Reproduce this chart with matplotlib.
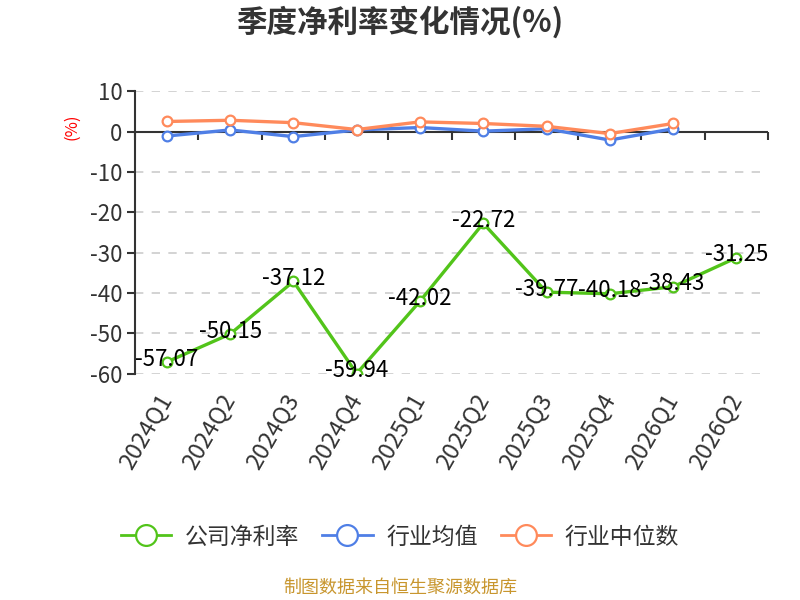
import matplotlib
matplotlib.use("Agg")
import matplotlib.pyplot as plt
from matplotlib.lines import Line2D

plt.rcParams['font.family'] = ['Noto Sans CJK SC', 'DejaVu Sans']

#### data
quarters = ["2024Q1", "2024Q2", "2024Q3", "2024Q4", "2025Q1",
            "2025Q2", "2025Q3", "2025Q4", "2026Q1", "2026Q2"]
company = [-57.07, -50.15, -37.12, -59.94, -42.02, -22.72, -39.77, -40.18, -38.43, -31.25]
ind_mean = [-1.1, 0.4, -1.25, 0.4, 1.0, 0.1, 0.7, -2.1, 0.7]
ind_median = [2.5, 2.8, 2.2, 0.5, 2.4, 2.0, 1.3, -0.5, 2.0]
y_ticks = [10, 0, -10, -20, -30, -40, -50, -60]

GREEN = "#52c41a"
BLUE = "#4f7fe6"
ORANGE = "#ff8a5b"

####
fig = plt.figure(figsize=(8, 6), dpi=100)
ax = fig.add_axes([0.169, 0.377, 0.791, 0.471])

x = list(range(len(quarters)))

def draw(vals, color):
    xs = x[:len(vals)]
    ax.plot(xs, vals, color=color, lw=2.4, marker='o', ms=7,
            mfc='white', mec=color, mew=1.6, zorder=3)

draw(ind_mean, BLUE)
draw(ind_median, ORANGE)
draw(company, GREEN)

for xi, v in zip(x, company):
    ax.text(xi, v + 0.7, f"{v:.2f}", ha='center', va='center',
            fontsize=16, color='black', zorder=4)

ax.set_xlim(-0.5, len(quarters) - 0.5)
ax.set_ylim(-60, 10)
ax.set_yticks(y_ticks)
ax.set_yticklabels([str(t) for t in y_ticks])
ax.yaxis.grid(True, ls=(0, (5, 5)), color='#cccccc', lw=1.2)
ax.set_axisbelow(True)

for s in ['top', 'right', 'bottom']:
    ax.spines[s].set_visible(False)
ax.spines['left'].set_color('#333333')
ax.spines['left'].set_linewidth(1.5)
ax.tick_params(axis='y', colors='#333333', labelsize=16, length=6, width=1.5, pad=3)

ax.set_xticks(x)
ax.set_xticklabels(quarters, rotation=60, ha='right', va='center',
                   rotation_mode='anchor', fontsize=17, color='#333333')
ax.tick_params(axis='x', length=0, pad=16)

# zero line with category boundary ticks
ax.axhline(0, color='#333333', lw=1.5, zorder=2)
zero_pos = (0 - (-60)) / 70
sec = ax.secondary_xaxis(zero_pos)
sec.set_xticks([i - 0.5 for i in range(len(quarters) + 1)])
sec.set_xticklabels([])
sec.tick_params(direction='out', length=6, width=1.5, colors='#333333')
sec.spines['bottom'].set_visible(False)
sec.spines['top'].set_visible(False)
sec.xaxis.set_ticks_position('bottom')

fig.text(0.09, 0.788, "(%)", rotation=90, color='red', fontsize=12,
         ha='center', va='center')

fig.text(0.5, 0.962, "季度净利率变化情况(%)", ha='center', va='center',
         fontsize=22, fontweight='bold', color='#333333')

handles = [Line2D([0], [0], color=c, lw=2, marker='o', ms=15,
                  mfc='white', mec=c, mew=1.6)
           for c in (GREEN, BLUE, ORANGE)]
fig.legend(handles, ["公司净利率", "行业均值", "行业中位数"], loc='center',
           bbox_to_anchor=(0.5, 0.105), ncol=3, frameon=False, fontsize=16.5,
           handlelength=2.2, columnspacing=1.0, handletextpad=0.6,
           labelcolor='#333333')

fig.text(0.5, 0.02, "制图数据来自恒生聚源数据库", ha='center', va='center',
         fontsize=13, color='#c8962e')

fig.savefig("out.png", dpi=100)
